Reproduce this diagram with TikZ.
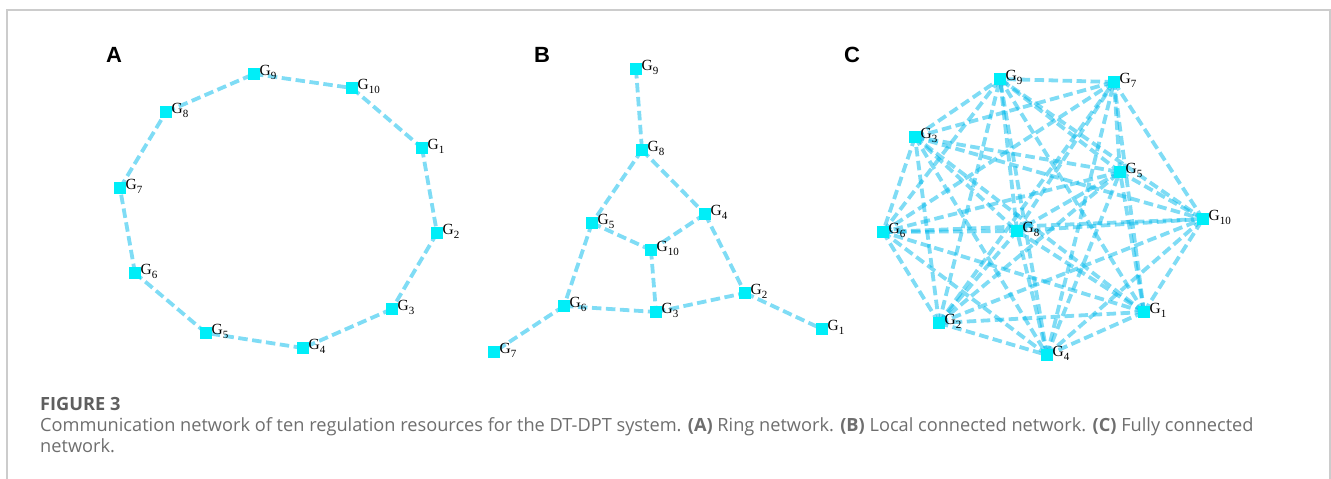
\documentclass[tikz,border=0pt]{standalone}
\usepackage{fontspec}
\setmainfont{Liberation Serif}
\newfontfamily\panelfont{Liberation Sans}
\newfontfamily\capfont{Open Sans}
\usetikzlibrary{calc}

\definecolor{framegray}{RGB}{204,204,204}
\definecolor{edgeblue}{RGB}{0,185,235}
\definecolor{nodecyan}{RGB}{0,238,248}
\definecolor{captext}{RGB}{110,110,110}
\definecolor{capbold}{RGB}{95,95,95}

\pgfdeclarelayer{edges}
\pgfsetlayers{edges,main}

% subscripted generator label
\newcommand\gsub[1]{G\raisebox{-4.8pt}{\fontsize{11}{11}\selectfont #1}}
% generator: square marker plus its label
\newcommand\gen[3]{%
  \node[gnode] (#1) at (#2) {};
  \node[glabel] (#1-l) at ([xshift=5.5pt,yshift=-1pt]#1.center) {\gsub{#3}};}

\begin{document}
\begin{tikzpicture}[x=1pt,y=-1pt,
  gnode/.style={rectangle,fill=nodecyan,draw=none,minimum size=11.5pt,inner sep=0pt},
  glabel/.style={anchor=base west,inner sep=0pt,font=\fontsize{15.5}{15.5}\selectfont},
  link/.style={draw=edgeblue,draw opacity=0.5,line width=3.8pt,dash pattern=on 9.5pt off 4.5pt},
  panel/.style={anchor=base west,inner sep=0pt,font=\panelfont\bfseries\fontsize{22}{22}\selectfont}]
\useasboundingbox (0,0) rectangle (1331,479);

% outer frame
\draw[framegray,line width=1.4pt] (7,479) -- (7,10) -- (1330,10) -- (1330,479);

% panel letters
\node[panel] (pA) at (106,62) {A};
\node[panel] (pB) at (534,62) {B};
\node[panel] (pC) at (844,62) {C};

% ---------- A: ring network ----------
\gen{a1}{422,148}{1}
\gen{a2}{437,233}{2}
\gen{a3}{392,309}{3}
\gen{a4}{303,348}{4}
\gen{a5}{206,333}{5}
\gen{a6}{135,273}{6}
\gen{a7}{120,188}{7}
\gen{a8}{166,112}{8}
\gen{a9}{254,74}{9}
\gen{a10}{352,88}{10}
\begin{pgfonlayer}{edges}
\foreach \p/\q in {a1/a2,a2/a3,a3/a4,a4/a5,a5/a6,a6/a7,a7/a8,a8/a9,a9/a10,a10/a1}
  \draw[link] (\p.center) -- (\q.center);
\end{pgfonlayer}

% ---------- B: local connected network ----------
\gen{b1}{822,329}{1}
\gen{b2}{745,293}{2}
\gen{b3}{656,312}{3}
\gen{b4}{705,214}{4}
\gen{b5}{592,223}{5}
\gen{b6}{564,306}{6}
\gen{b7}{494,352}{7}
\gen{b8}{642,150}{8}
\gen{b9}{636,69}{9}
\gen{b10}{651,250}{10}
\begin{pgfonlayer}{edges}
\foreach \p/\q in {b9/b8,b8/b5,b8/b4,b5/b10,b4/b10,b5/b6,b4/b2,b10/b3,b6/b3,b3/b2,b2/b1,b6/b7}
  \draw[link] (\p.center) -- (\q.center);
\end{pgfonlayer}

% ---------- C: fully connected network ----------
\gen{c1}{1144,312}{1}
\gen{c2}{939,323}{2}
\gen{c3}{915,137}{3}
\gen{c4}{1047,355}{4}
\gen{c5}{1120,172}{5}
\gen{c6}{883,232}{6}
\gen{c7}{1114,82}{7}
\gen{c8}{1017,231}{8}
\gen{c9}{1000,79}{9}
\gen{c10}{1203,219}{10}
\begin{pgfonlayer}{edges}
\foreach \i in {1,...,9}{
  \pgfmathtruncatemacro\nexti{\i+1}
  \foreach \j in {\nexti,...,10}
    \draw[link] (c\i.center) -- (c\j.center);
}
\end{pgfonlayer}

% caption
\node[anchor=base west,inner sep=0pt,text=capbold,font=\capfont\bfseries\fontsize{18.2}{18.2}\selectfont] (figno) at (40,410) {FIGURE 3};
\node[anchor=base west,inner sep=0pt,text=captext,font=\capfont\fontsize{18.2}{18.2}\selectfont] (cap1) at (40,431)
  {Communication network of ten regulation resources for the DT-DPT system. \textbf{(A)} Ring network. \textbf{(B)} Local connected network. \textbf{(C)} Fully connected};
\node[anchor=base west,inner sep=0pt,text=captext,font=\capfont\fontsize{18.2}{18.2}\selectfont] (cap2) at (40,452) {network.};
\end{tikzpicture}
\end{document}
